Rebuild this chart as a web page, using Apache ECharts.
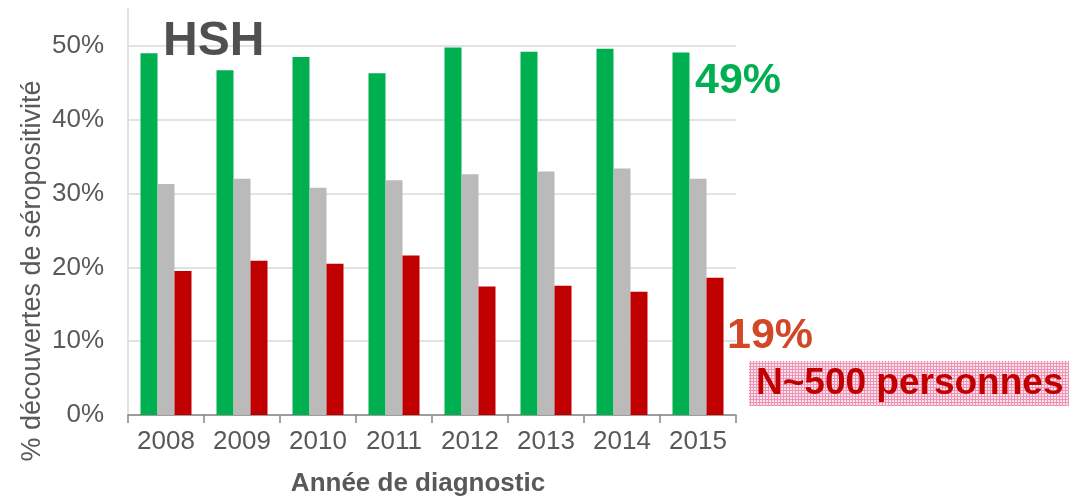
<!DOCTYPE html>
<html>
<head>
<meta charset="utf-8">
<script src="https://cdn.jsdelivr.net/npm/echarts@6/dist/echarts.min.js"></script>
<style>
    html, body { margin: 0; padding: 0; background: #fff; }
    #chart { width: 1070px; height: 497px; }
</style>
</head>
<body>
<div id="chart"></div>
<script>
const years = ['2008', '2009', '2010', '2011', '2012', '2013', '2014', '2015'];
const green_values = [49.0, 46.7, 48.5, 46.3, 49.8, 49.2, 49.6, 49.1];
const grey_values = [31.3, 32.0, 30.8, 31.8, 32.6, 33.0, 33.4, 32.0];
const red_values = [19.5, 20.9, 20.5, 21.6, 17.4, 17.5, 16.7, 18.6];

const font = 'Liberation Sans, Arial, sans-serif';

// hatched pink background for the N label
function hatch() {
    const c = document.createElement('canvas');
    c.width = 3;
    c.height = 3;
    const ctx = c.getContext('2d');
    ctx.fillStyle = '#FBE3EC';
    ctx.fillRect(0, 0, 3, 3);
    ctx.fillStyle = '#EE93B6';
    ctx.fillRect(0, 0, 3, 1);
    ctx.fillRect(0, 0, 1, 3);
    return c;
}

function bar_item(name, data, color) {
    return {
        type: 'bar',
        name: name,
        data: data,
        barWidth: 17,
        barGap: '0%',
        itemStyle: {color: color},
        silent: true
    };
}

const chart = echarts.init(document.getElementById('chart'));
chart.setOption({
    animation: false,
    grid: {left: 128, right: 334, top: 9, bottom: 82},
    xAxis: {
        type: 'category',
        data: years,
        axisLine: {lineStyle: {color: '#878787', width: 1.5}},
        axisTick: {show: true, length: 8, lineStyle: {color: '#878787', width: 1.5}},
        axisLabel: {fontSize: 26, color: '#595959', fontFamily: font, margin: 14}
    },
    yAxis: {
        type: 'value',
        min: 0,
        max: 55,
        interval: 10,
        axisLine: {show: true, lineStyle: {color: '#D9D9D9', width: 1.5}},
        axisTick: {show: false},
        splitLine: {show: true, showMaxLine: false, lineStyle: {color: '#D9D9D9', width: 1.5}},
        axisLabel: {
            fontSize: 26, color: '#595959', fontFamily: font, margin: 24,
            showMaxLabel: false,
            formatter: v => (v % 10 === 0 ? v + '%' : '')
        }
    },
    series: [
        bar_item('g', green_values, '#00B050'),
        bar_item('gr', grey_values, '#BABABA'),
        bar_item('r', red_values, '#C00000')
    ],
    graphic: [
        {
            type: 'text', x: 163, y: 42, z: 100,
            style: {text: 'HSH', font: 'bold 48px ' + font, fill: '#505050', verticalAlign: 'middle'}
        },
        {
            type: 'text', x: 695, y: 81, z: 100,
            style: {text: '49%', font: 'bold 43px ' + font, fill: '#00B050', verticalAlign: 'middle'}
        },
        {
            type: 'text', x: 727, y: 336, z: 100,
            style: {text: '19%', font: 'bold 43px ' + font, fill: '#D24726', verticalAlign: 'middle'}
        },
        {
            type: 'rect', z: 99,
            shape: {x: 749, y: 361, width: 320, height: 45},
            style: {fill: {image: hatch(), repeat: 'repeat'}}
        },
        {
            type: 'text', x: 756, y: 384, z: 100,
            style: {text: 'N~500 personnes', font: 'bold 37px ' + font, fill: '#C00000', verticalAlign: 'middle'}
        },
        {
            type: 'text', x: 33, y: 271, rotation: Math.PI / 2, z: 100,
            style: {
                text: '% découvertes de séropositivité', font: '27px ' + font, fill: '#595959',
                align: 'center', verticalAlign: 'middle'
            }
        },
        {
            type: 'text', x: 418, y: 484, z: 100,
            style: {
                text: 'Année de diagnostic', font: 'bold 26px ' + font, fill: '#595959',
                align: 'center', verticalAlign: 'middle'
            }
        }
    ]
});
</script>
</body>
</html>
